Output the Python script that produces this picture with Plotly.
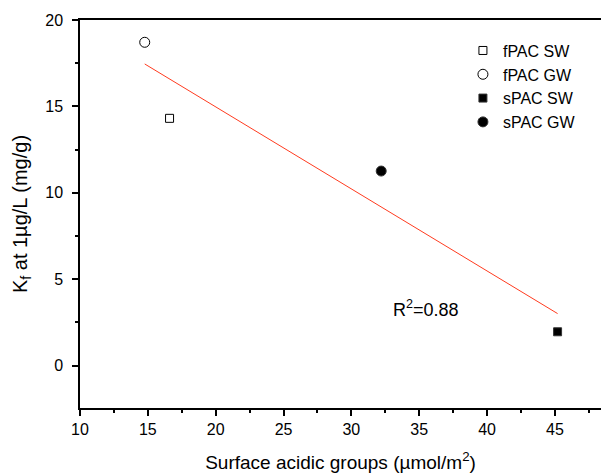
import numpy as np
import plotly.graph_objects as go

series_names = ["fPAC SW", "fPAC GW", "sPAC SW", "sPAC GW"]
series_x = [16.6, 14.77, 45.2, 32.2]
series_y = [14.31, 18.71, 1.96, 11.26]
series_symbols = ["square-open", "circle-open", "square", "circle"]
r2_text = "R<sup>2</sup>=0.88"

FONT = "Liberation Sans, Arial, sans-serif"

fig = go.Figure()

# linear fit
slope, intercept = np.polyfit(series_x, series_y, 1)
fx = np.array([min(series_x), max(series_x)])
fig.add_trace(go.Scatter(x=fx, y=slope * fx + intercept, mode="lines",
                         line=dict(color="#ff3b1f", width=1), showlegend=False,
                         hoverinfo="skip"))

for name, x, y, sym in zip(series_names, series_x, series_y, series_symbols):
    size = 8 if "square" in sym else 10
    fig.add_trace(go.Scatter(x=[x], y=[y], mode="markers", name=name,
                             marker=dict(symbol=sym, size=size, color="#000000",
                                         line=dict(color="#333333", width=1))))

fig.add_annotation(x=32.95, y=3.28, xref="x", yref="y", text=r2_text,
                   showarrow=False, xanchor="left", yanchor="middle",
                   font=dict(family=FONT, size=18, color="#000"))

fig.update_layout(
    width=601, height=473,
    margin=dict(l=80, r=0, t=20, b=65),
    paper_bgcolor="white", plot_bgcolor="white",
    font=dict(family=FONT, color="#000"),
    legend=dict(x=0.735, y=0.965, xanchor="left", yanchor="top",
                font=dict(family=FONT, size=16), bgcolor="rgba(0,0,0,0)",
                tracegroupgap=0, itemwidth=30),
)
fig.update_xaxes(range=[10, 48.4], showgrid=False, zeroline=False,
                 showline=True, linecolor="#000", linewidth=1.5, mirror=True,
                 ticks="outside", ticklen=6, tickwidth=1.5, tickcolor="#000",
                 tick0=10, dtick=5, automargin=False,
                 minor=dict(ticks="outside", ticklen=3, tickwidth=1.5, tickcolor="#000", dtick=2.5),
                 tickfont=dict(family=FONT, size=16),
                 title=dict(text="Surface acidic groups (µmol/m<sup>2</sup>)",
                            font=dict(family=FONT, size=19), standoff=24))
fig.update_yaxes(range=[-2.45, 20], showgrid=False, zeroline=False,
                 showline=True, linecolor="#000", linewidth=1.5,
                 ticks="outside", ticklen=6, tickwidth=1.5, tickcolor="#000",
                 tick0=0, dtick=5, automargin=False,
                 minor=dict(ticks="outside", ticklen=3, tickwidth=1.5, tickcolor="#000", dtick=2.5),
                 tickfont=dict(family=FONT, size=16), ticklabelstandoff=6,
                 title=dict(text="K<sub>f</sub> at 1µg/L (mg/g)",
                            font=dict(family=FONT, size=20), standoff=12))

fig.write_html("out.html")
